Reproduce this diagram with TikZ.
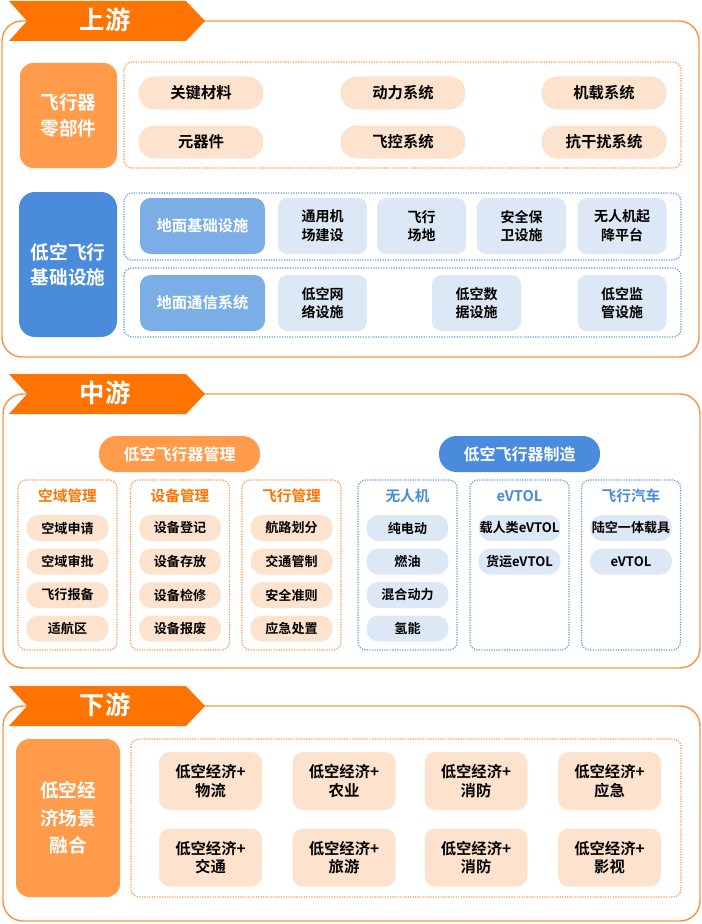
\documentclass[tikz,border=0pt]{standalone}
\usepackage{fontspec}
\setmainfont{Noto Sans CJK SC}[BoldFont={Noto Sans CJK SC Bold}]
\definecolor{deeporange}{HTML}{FF7300}
\definecolor{midorange}{HTML}{FF9B4B}
\definecolor{peach}{HTML}{FDE3CD}
\definecolor{frameorange}{HTML}{F8964A}
\definecolor{deepblue}{HTML}{4A8BDB}
\definecolor{midblue}{HTML}{7BAEE6}
\definecolor{paleblue}{HTML}{DDE8F7}
\definecolor{dotblue}{HTML}{5B9BE0}

\begin{document}
\begin{tikzpicture}[x=0.75pt,y=-0.75pt,
  stage/.style={draw=frameorange,line width=1.1pt,rounded corners=15pt},
  banner/.style={fill=deeporange},
  bannertext/.style={text=white,font=\fontsize{19}{22}\selectfont\bfseries},
  ofence/.style={draw=frameorange,densely dotted,line width=0.9pt,rounded corners=6pt},
  bfence/.style={draw=dotblue,densely dotted,line width=0.9pt,rounded corners=6pt},
  headbox/.style={text=white,align=center,inner sep=0pt,font=\fontsize{14}{19}\selectfont\bfseries},
  partpill/.style={fill=peach,rounded corners=12pt,minimum width=93.75pt,minimum height=24.75pt,
    inner sep=0pt,font=\fontsize{11.5}{14}\selectfont\bfseries},
  infrabox/.style={fill=paleblue,rounded corners=7pt,minimum width=66.75pt,minimum height=42pt,
    inner sep=0pt,align=center,font=\fontsize{10.5}{14}\selectfont\bfseries},
  infrahead/.style={fill=midblue,text=white,rounded corners=8pt,minimum width=93.75pt,minimum height=42pt,
    inner sep=0pt,font=\fontsize{11.5}{14}\selectfont\bfseries},
  groupbox/.style={text=white,rounded corners=13pt,minimum width=120.75pt,minimum height=27pt,
    inner sep=0pt,font=\fontsize{12}{14}\selectfont\bfseries},
  colhead/.style={font=\fontsize{11}{13}\selectfont\bfseries},
  itempill/.style={rounded corners=9pt,minimum width=61.5pt,minimum height=19.5pt,
    inner sep=0pt,font=\fontsize{9.8}{12}\selectfont\bfseries},
  scenebox/.style={fill=peach,rounded corners=8pt,minimum width=77.25pt,minimum height=43.5pt,
    inner sep=0pt,align=center,font=\fontsize{11.5}{14}\selectfont\bfseries}
]
\useasboundingbox (0,0) rectangle (702,924);

% 上游
\draw[stage] (2,21) rectangle (699,357);
\fill[banner] (9,1) -- (186,1) -- (205,21) -- (186,41) -- (9,41) -- (27,21) -- cycle;
\node[bannertext] (up) at (105,20) {上游};

\node[fill=midorange,rounded corners=10pt,minimum width=72.75pt,minimum height=78.75pt,headbox]
  (parts) at (68.5,115.5) {飞行器\\零部件};
\draw[ofence] (124,62) rectangle (681,168);
\foreach \t/\x/\y [count=\i] in {关键材料/201/93, 动力系统/403/93, 机载系统/604/93,
    元器件/201/142, 飞控系统/403/142, 抗干扰系统/604/142}
  \node[partpill] (part\i) at (\x,\y) {\t};

\node[fill=deepblue,rounded corners=12pt,minimum width=73.5pt,minimum height=108.75pt,headbox]
  (infra) at (68,264.5) {低空飞行\\基础设施};
\draw[bfence] (124,193) rectangle (681,260);
\draw[bfence] (124,268) rectangle (681,337);
\node[infrahead] (ground) at (202.5,226) {地面基础设施};
\node[infrahead] (comm) at (202.5,303) {地面通信系统};
\foreach \t/\x [count=\i] in {通用机\\场建设/322.5, 飞行\\场地/421.5, 安全保\\卫设施/521.5, 无人机起\\降平台/622}
  \node[infrabox] (ground\i) at (\x,226) {\t};
\foreach \t/\x [count=\i] in {低空网\\络设施/322.5, 低空数\\据设施/476.5, 低空监\\管设施/622}
  \node[infrabox] (comm\i) at (\x,303) {\t};

% 中游
\draw[stage] (3,394) rectangle (700,668);
\fill[banner] (9,374) -- (186,374) -- (205,394) -- (186,414) -- (9,414) -- (27,394) -- cycle;
\node[bannertext] (mid) at (105,393) {中游};

\node[groupbox,fill=midorange] (manage) at (179.5,454) {低空飞行器管理};
\node[groupbox,fill=deepblue] (make) at (519.5,454) {低空飞行器制造};

\foreach \x/\h/\items [count=\c] in {67.5/空域管理/{空域申请,空域审批,飞行报备,适航区},
    180/设备管理/{设备登记,设备存放,设备检修,设备报废},
    291.5/飞行管理/{航路划分,交通管制,安全准则,应急处置}} {
  \draw[ofence] (\x-49.5,480) rectangle (\x+49.5,650);
  \node[colhead,text=deeporange] (mh\c) at (\x,496) {\h};
  \foreach \t [count=\r] in \items
    \node[itempill,fill=peach] (m\c-\r) at (\x,{494.5+33.5*\r}) {\t};
}
\foreach \x/\h/\items [count=\c] in {407.5/无人机/{纯电动,燃油,混合动力,氢能},
    519.5/eVTOL/{载人类eVTOL,货运eVTOL},
    631/飞行汽车/{陆空一体载具,eVTOL}} {
  \draw[bfence] (\x-49.5,480) rectangle (\x+49.5,650);
  \node[colhead,text=deepblue] (bh\c) at (\x,496) {\h};
  \foreach \t [count=\r] in \items
    \node[itempill,fill=paleblue] (b\c-\r) at (\x,{494.5+33.5*\r}) {\t};
}

% 下游
\draw[stage] (3,706) rectangle (700,921);
\fill[banner] (9,686) -- (186,686) -- (205,706) -- (186,726) -- (9,726) -- (27,706) -- cycle;
\node[bannertext] (down) at (105,705) {下游};

\node[fill=midorange,rounded corners=10pt,minimum width=78pt,minimum height=118.5pt,headbox,
  font=\fontsize{14}{20.5}\selectfont\bfseries] (scene) at (68,818) {低空经\\济场景\\融合};
\draw[ofence] (131,739) rectangle (681,897);
\foreach \t/\x/\y [count=\i] in {物流/210.5/781, 农业/344/781, 消防/476/781, 应急/609.5/781,
    交通/210.5/857.5, 旅游/344/857.5, 消防/476/857.5, 影视/609.5/857.5}
  \node[scenebox] (scene\i) at (\x,\y) {低空经济+\\\t};
\end{tikzpicture}
\end{document}
